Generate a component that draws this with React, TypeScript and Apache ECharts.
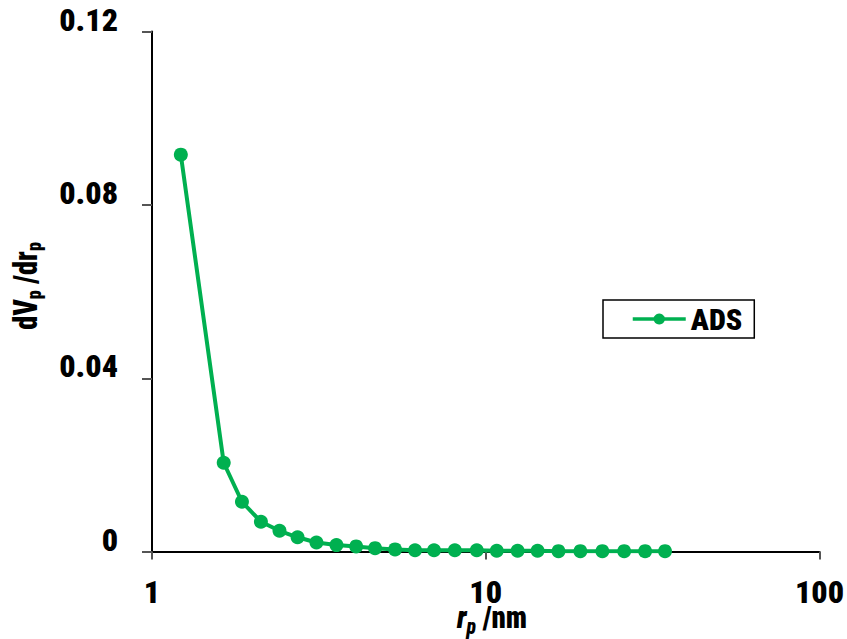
import React, { useEffect, useRef } from "react";
import * as echarts from "echarts";

// Pore radius (nm) and differential pore volume for the adsorption branch
const poreRadius = [1.22, 1.64, 1.86, 2.12, 2.41, 2.73, 3.11, 3.57, 4.09, 4.66, 5.35, 6.14, 7.0, 8.08, 9.4, 10.79, 12.46, 14.3, 16.52, 19.21, 22.36, 25.99, 30.03, 34.45];
const dVdr = [0.0916, 0.0205, 0.0115, 0.0069, 0.0048, 0.0033, 0.0021, 0.0015, 0.0012, 0.0008, 0.0005, 0.0003, 0.0003, 0.0003, 0.0003, 0.0002, 0.0002, 0.0002, 0.0001, 0.0001, 0.0001, 0.0001, 0.0001, 0.0001];
const seriesName = "ADS";
const yTicks = [0, 0.04, 0.08, 0.12];

const FONT =
  '"Noto Sans ExtraCondensed", "Noto Sans Condensed", "Roboto Condensed", "Liberation Sans Narrow", "DejaVu Sans Condensed", sans-serif';
const WEIGHT = 900;
const GREEN = "#00B050";

export default function App() {
  const ref = useRef<HTMLDivElement>(null);

  useEffect(() => {
    if (!ref.current) return;
    const chart = echarts.init(ref.current, null, { renderer: "svg" });
    const data = poreRadius.map((r, i) => [r, dVdr[i]]);
    chart.setOption({
      animation: false,
      backgroundColor: "#ffffff",
      grid: { left: 152, right: 25, top: 31.6, bottom: 87.4, containLabel: false },
      legend: {
        show: true,
        left: 603,
        top: 300,
        orient: "horizontal",
        data: [seriesName],
        backgroundColor: "#ffffff",
        borderColor: "#000000",
        borderWidth: 1.5,
        borderRadius: 0,
        padding: [4, 12, 4, 28],
        itemWidth: 53,
        itemHeight: 14,
        lineStyle: { width: 3.5 },
        textStyle: { fontFamily: FONT, fontWeight: WEIGHT, fontSize: 30, color: "#000" },
      },
      xAxis: {
        type: "log",
        logBase: 10,
        min: 1,
        max: 100,
        axisLine: { show: true, lineStyle: { color: "#000", width: 2 } },
        axisTick: { show: true, inside: false, length: 8, lineStyle: { color: "#555", width: 2 } },
        minorTick: { show: false },
        splitLine: { show: false },
        axisLabel: {
          margin: 24,
          fontFamily: FONT,
          fontWeight: WEIGHT,
          fontSize: 32,
          color: "#000",
          formatter: (v: number) => String(Math.round(v)),
        },
      },
      yAxis: {
        type: "value",
        min: yTicks[0],
        max: yTicks[yTicks.length - 1],
        interval: 0.04,
        axisLine: { show: true, lineStyle: { color: "#000", width: 2 } },
        axisTick: { show: true, inside: false, length: 10, lineStyle: { color: "#555", width: 2 } },
        splitLine: { show: false },
        axisLabel: {
          margin: 34,
          color: "#000",
          formatter: (v: number) => "{v|" + (v === 0 ? "0" : v.toFixed(2)) + "}",
          rich: {
            v: {
              fontFamily: FONT,
              fontWeight: WEIGHT,
              fontSize: 32,
              color: "#000",
              padding: [0, 0, 24, 0],
            },
          },
        },
      },
      graphic: [
        {
          type: "text",
          x: 26,
          y: 286,
          rotation: Math.PI / 2,
          scaleX: 0.86,
          style: {
            text: "{m|dV}{s|p}{m| /dr}{s|p}",
            align: "center",
            verticalAlign: "middle",
            rich: {
              m: { fontFamily: FONT, fontWeight: WEIGHT, fontSize: 33, fill: "#000" },
              s: { fontFamily: FONT, fontWeight: WEIGHT, fontSize: 21, fill: "#000", padding: [16, 0, 0, 0] },
            },
          },
        },
        {
          type: "text",
          x: 492,
          y: 617,
          scaleX: 0.9,
          style: {
            text: "{i|r}{is|p}{m| /nm}",
            align: "center",
            verticalAlign: "middle",
            rich: {
              i: { fontFamily: FONT, fontWeight: WEIGHT, fontStyle: "italic", fontSize: 32, fill: "#000" },
              is: { fontFamily: FONT, fontWeight: WEIGHT, fontStyle: "italic", fontSize: 22, fill: "#000", padding: [20, 0, 0, 0] },
              m: { fontFamily: FONT, fontWeight: WEIGHT, fontSize: 32, fill: "#000" },
            },
          },
        },
      ],
      series: [
        {
          name: seriesName,
          type: "line",
          data,
          symbol: "circle",
          symbolSize: 14,
          lineStyle: { color: GREEN, width: 4 },
          itemStyle: { color: GREEN },
          z: 3,
        },
      ],
    });
    return () => chart.dispose();
  }, []);

  return (
    <div
      ref={ref}
      style={{ position: "absolute", left: 0, top: 0, width: 847, height: 639 }}
    />
  );
}
